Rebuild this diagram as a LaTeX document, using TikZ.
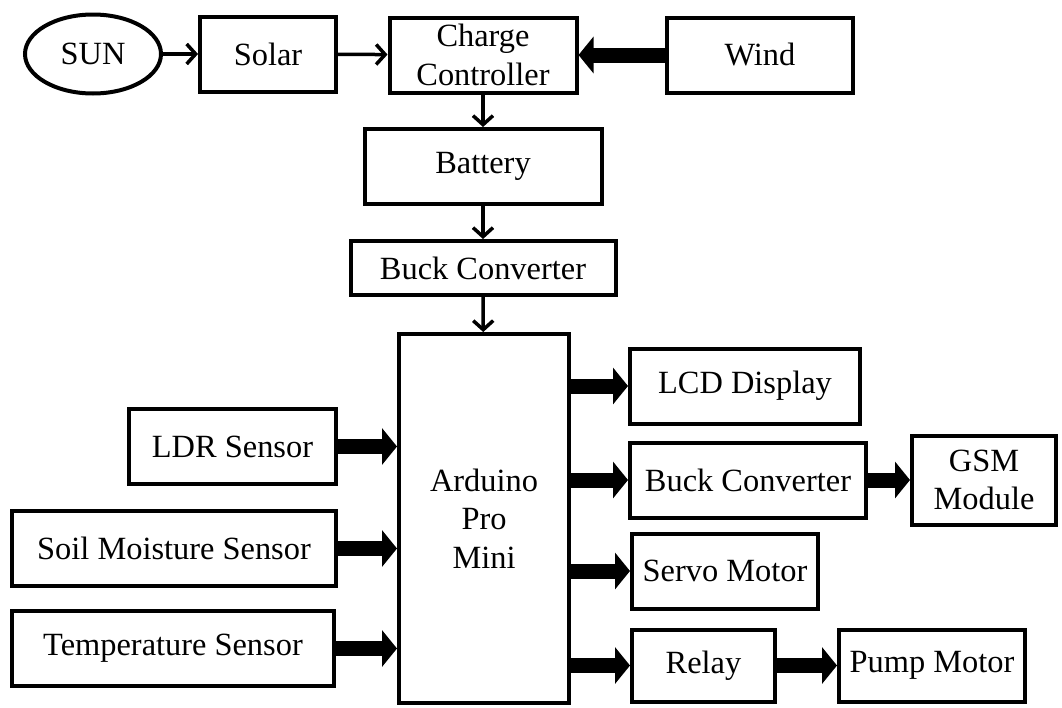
\documentclass[tikz,border=0pt]{standalone}
\usepackage{fontspec}
\setmainfont{Liberation Serif}
\usetikzlibrary{arrows.meta, positioning, shapes.geometric}

\tikzset{
  blk/.style={draw, line width=4pt, inner sep=0pt, align=center, minimum height=75pt},
  thinarr/.style={line width=3.5pt, -{Straight Barb[length=9pt,width=20pt]}},
  fatarr/.style={line width=15pt, -{Triangle[length=15pt,width=36pt]}}
}

\begin{document}
\begin{tikzpicture}[x=1pt, y=-1pt, font=\fontsize{32.4}{38.5}\selectfont]
\useasboundingbox (0,0) rectangle (1062,707);

% Power sources
\node[blk, ellipse, minimum width=136pt, minimum height=79pt] (sun) at (93,54) {SUN};
\node[blk, minimum width=136pt] (solar) at (268,54) {Solar};
\node[blk, minimum width=187pt] (cc) at (483,55) {Charge\\Controller};
\node[blk, minimum width=186pt] (wind) at (760,55) {Wind};

% Supply chain
\node[blk, minimum width=237pt] (bat) at (483,166.5) {Battery};
\node[blk, minimum width=265pt, minimum height=54pt] (buckin) at (483,268) {Buck Converter};
\node[blk, minimum width=170pt, minimum height=369pt] (ard) at (484,518.5) {Arduino\\Pro\\Mini};

% Sensors
\node[blk, minimum width=207pt] (ldr) at (232.5,446.5) {LDR Sensor};
\node[blk, minimum width=324pt] (soil) at (174,548.5) {Soil Moisture Sensor};
\node[blk, minimum width=322pt] (temp) at (173,648.5) {Temperature Sensor};

% Outputs
\node[blk, minimum width=230pt] (lcd) at (745,386) {LCD Display};
\node[blk, minimum width=236pt] (buckout) at (748,480) {Buck Converter};
\node[blk, minimum width=144pt, minimum height=89pt] (gsm) at (984,480) {GSM\\Module};
\node[blk, minimum width=186pt] (servo) at (725,571) {Servo Motor};
\node[blk, minimum width=143pt, minimum height=72pt] (relay) at (703.5,665.5) {Relay};
\node[blk, minimum width=186pt, minimum height=72pt] (pump) at (932,665.5) {Pump Motor};

% Thin arrows
\draw[thinarr] (sun) -- (solar);
\draw[thinarr] (solar) -- (cc);
\draw[thinarr] (cc) -- (bat);
\draw[thinarr] (bat) -- (buckin);
\draw[thinarr] (buckin) -- (ard);

% Thick arrows
\draw[fatarr] (wind) -- (cc);
\draw[fatarr] (ldr.east) -- (ldr.east -| ard.west);
\draw[fatarr] (soil.east) -- (soil.east -| ard.west);
\draw[fatarr] (temp.east) -- (temp.east -| ard.west);
\draw[fatarr] (lcd.west -| ard.east) -- (lcd.west);
\draw[fatarr] (buckout.west -| ard.east) -- (buckout.west);
\draw[fatarr] (servo.west -| ard.east) -- (servo.west);
\draw[fatarr] (relay.west -| ard.east) -- (relay.west);
\draw[fatarr] (buckout) -- (gsm);
\draw[fatarr] (relay) -- (pump);
\end{tikzpicture}
\end{document}
